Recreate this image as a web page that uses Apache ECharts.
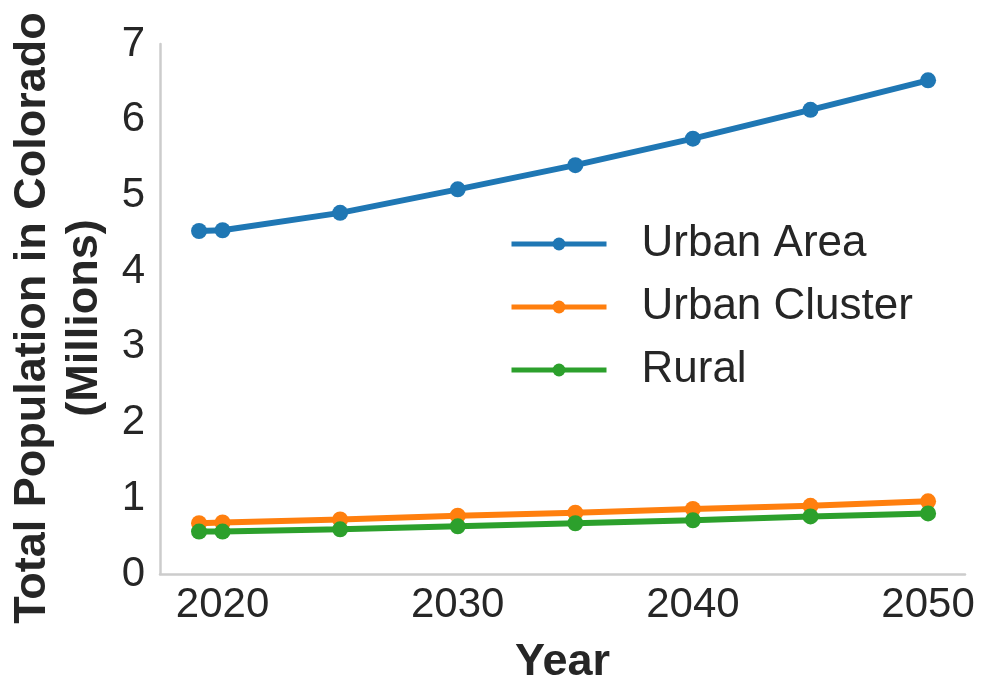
<!DOCTYPE html>
<html>
<head>
<meta charset="utf-8">
<script src="https://cdn.jsdelivr.net/npm/echarts@6/dist/echarts.min.js"></script>
<style>html,body{margin:0;padding:0;background:#fff}#c{width:988px;height:678px}</style>
</head>
<body>
<div id="c"></div>
<script>
const years = [2019, 2020, 2025, 2030, 2035, 2040, 2045, 2050];
const urbanArea = [4.53, 4.54, 4.77, 5.08, 5.40, 5.75, 6.13, 6.52];
const urbanCluster = [0.67, 0.68, 0.72, 0.77, 0.81, 0.86, 0.90, 0.96];
const rural = [0.56, 0.56, 0.59, 0.63, 0.67, 0.71, 0.76, 0.80];
const xTicks = [2020, 2030, 2040, 2050];
const yTicks = [0, 1, 2, 3, 4, 5, 6, 7];

const font = 'Liberation Sans, Arial, sans-serif';
const txt = '#262626';
const pair = arr => years.map((y, i) => [y, arr[i]]);
const mk = (name, data, color) => ({
  name, type: 'line', data: pair(data), symbol: 'circle', symbolSize: 16,
  lineStyle: { width: 6, color }, itemStyle: { color }, color
});

const chart = echarts.init(document.getElementById('c'), null, { renderer: 'canvas' });
chart.setOption({
  animation: false,
  backgroundColor: '#fff',
  grid: { left: 160, right: 23, top: 44, bottom: 104, containLabel: false, outerBoundsMode: 'none' },
  xAxis: {
    type: 'value', min: 2017.34, max: 2051.57,
    name: 'Year', nameLocation: 'middle', nameGap: 66,
    nameTextStyle: { fontFamily: font, fontSize: 45, fontWeight: 'bold', color: txt },
    axisLine: { show: true, lineStyle: { color: '#cccccc', width: 2.5 } },
    axisTick: { show: false },
    splitLine: { show: false },
    axisLabel: { customValues: xTicks, formatter: v => String(v), fontFamily: font, fontSize: 42, color: txt, margin: 10 }
  },
  yAxis: {
    type: 'value', min: yTicks[0], max: yTicks[yTicks.length - 1], interval: 1,
    name: 'Total Population in Colorado\n(Millions)', nameLocation: 'middle', nameGap: 44,
    nameTextStyle: { fontFamily: font, fontSize: 45, fontWeight: 'bold', color: txt, lineHeight: 52, align: 'center', padding: [0, 18, 0, 0] },
    axisLine: { show: true, lineStyle: { color: '#cccccc', width: 2.5 } },
    axisTick: { show: false },
    splitLine: { show: false },
    axisLabel: { fontFamily: font, fontSize: 42, color: txt, margin: 15 }
  },
  legend: {
    orient: 'vertical', left: 504, top: 215,
    itemWidth: 95, itemHeight: 16, itemGap: 15,
    lineStyle: { width: 5 },
    textStyle: { fontFamily: font, fontSize: 44, color: txt, lineHeight: 48, padding: [0, 0, 0, 30] },
    data: ['Urban Area', 'Urban Cluster', 'Rural']
  },
  series: [
    mk('Urban Area', urbanArea, '#1f77b4'),
    mk('Urban Cluster', urbanCluster, '#ff7f0e'),
    mk('Rural', rural, '#2ca02c')
  ]
});
</script>
</body>
</html>
